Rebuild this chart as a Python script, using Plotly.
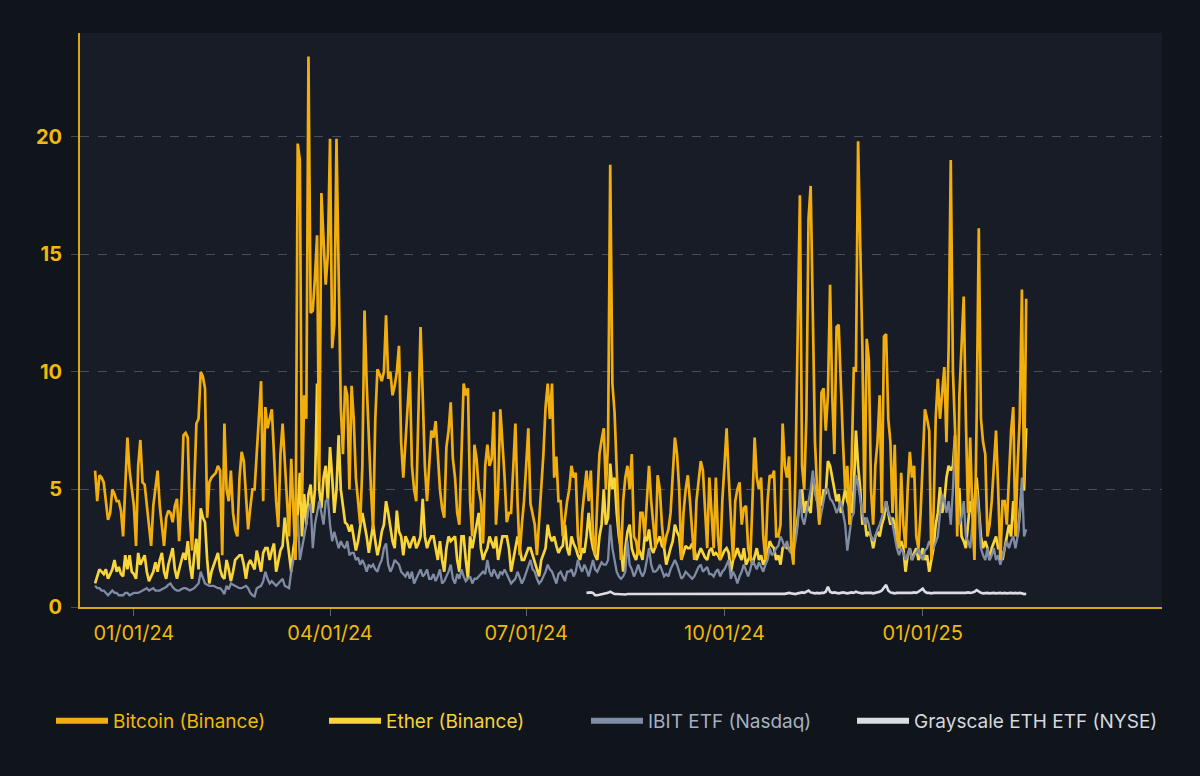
import pandas as pd
import plotly.graph_objects as go

# ---------------- data (daily, from 2023-12-14) ----------------
start_date = "2023-12-14"
gray_start = "2024-07-29"

bitcoin = [
    5.8, 4.5, 5.6, 5.5, 5.3, 4.6, 3.7, 4.0, 5.0, 4.8,
    4.5, 4.5, 4.1, 3.0, 5.5, 7.2, 5.8, 5.0, 4.3, 2.6,
    6.0, 7.1, 5.3, 5.2, 4.4, 3.6, 2.6, 4.3, 5.0, 5.8,
    4.3, 3.4, 2.6, 3.8, 4.1, 4.0, 3.6, 4.3, 4.6, 2.8,
    4.5, 7.3, 7.4, 7.2, 3.8, 2.4, 5.0, 7.8, 8.0, 10.0,
    9.8, 9.3, 3.8, 5.3, 5.5, 5.6, 5.7, 6.0, 5.8, 2.2,
    7.8, 5.0, 4.5, 5.8, 4.0, 3.3, 3.0, 5.5, 6.6, 6.2,
    4.5, 3.3, 4.2, 5.0, 5.0, 6.5, 8.0, 9.6, 4.5, 8.5,
    7.6, 8.0, 8.4, 6.5, 4.5, 3.4, 6.5, 7.8, 6.0, 4.5,
    3.0, 6.3, 4.0, 2.0, 19.7, 19.0, 4.5, 9.0, 8.0, 23.4,
    12.5, 12.6, 14.0, 15.8, 5.3, 17.6, 15.6, 13.7, 15.0, 19.9,
    11.0, 12.0, 19.9, 14.0, 8.5, 6.5, 9.4, 9.0, 5.0, 9.4,
    8.0, 5.5, 4.5, 3.5, 6.0, 12.6, 9.5, 7.0, 5.0, 3.3,
    8.0, 10.1, 9.9, 9.6, 10.0, 12.4, 9.7, 10.0, 9.0, 9.4,
    10.0, 11.1, 7.0, 5.5, 7.0, 8.0, 10.0, 6.0, 5.0, 4.5,
    8.0, 11.9, 9.0, 6.0, 4.5, 6.0, 7.5, 7.2, 7.9, 6.5,
    5.0, 4.2, 3.8, 6.8, 7.5, 8.7, 6.3, 5.5, 4.0, 3.5,
    7.0, 9.5, 9.0, 9.3, 4.5, 3.0, 6.9, 6.3, 5.0, 4.5,
    2.7, 6.0, 6.9, 6.0, 6.3, 8.3, 3.5, 5.0, 8.4, 7.0,
    5.5, 3.6, 4.0, 4.0, 6.0, 7.8, 4.5, 2.2, 3.5, 4.5,
    6.0, 7.6, 4.4, 4.0, 3.5, 2.2, 3.5, 5.0, 6.5, 8.5,
    9.5, 8.0, 9.5, 5.5, 6.4, 4.5, 4.5, 3.0, 3.8, 4.5,
    5.0, 6.0, 5.5, 5.7, 3.0, 2.3, 4.0, 5.0, 5.8, 4.5,
    5.8, 3.0, 2.2, 4.5, 6.5, 7.1, 7.6, 5.0, 7.0, 18.8,
    9.5, 8.3, 6.0, 3.5, 2.0, 4.5, 5.5, 6.0, 5.0, 6.5,
    3.0, 2.8, 2.2, 4.0, 4.0, 3.0, 4.5, 6.0, 4.5, 3.5,
    2.5, 5.6, 5.0, 3.5, 2.5, 3.0, 3.3, 4.0, 5.5, 7.2,
    6.5, 5.0, 2.0, 4.0, 5.0, 5.6, 4.5, 3.0, 2.0, 4.5,
    5.5, 6.2, 5.8, 4.0, 2.5, 5.5, 4.0, 2.5, 5.5, 3.0,
    2.0, 4.5, 6.0, 7.6, 5.5, 4.0, 2.0, 4.5, 5.0, 5.3,
    3.5, 4.2, 4.3, 2.5, 2.0, 4.5, 7.2, 5.5, 5.0, 5.5,
    3.0, 2.0, 4.5, 5.6, 5.5, 5.8, 3.0, 3.0, 3.5, 7.8,
    6.0, 5.5, 6.4, 2.5, 1.8, 6.0, 12.0, 17.5, 6.0, 5.0,
    8.0, 16.5, 17.9, 12.0, 7.0, 5.0, 3.5, 9.1, 9.3, 7.5,
    9.0, 13.7, 9.0, 6.5, 11.9, 12.0, 9.0, 7.0, 5.0, 6.0,
    3.5, 6.0, 10.2, 10.0, 19.8, 15.0, 11.0, 4.0, 11.4, 10.5,
    5.0, 3.5, 6.0, 7.0, 9.0, 4.0, 11.5, 11.6, 8.0, 7.0,
    4.0, 6.9, 3.0, 2.5, 5.7, 3.5, 2.5, 5.0, 6.6, 5.5,
    6.0, 3.0, 2.5, 4.0, 6.0, 8.4, 8.0, 7.5, 2.0, 4.0,
    8.0, 9.7, 8.0, 9.0, 10.2, 7.0, 11.0, 19.0, 10.0, 7.5,
    3.0, 9.0, 11.0, 13.2, 8.0, 4.0, 7.2, 4.0, 2.0, 8.0,
    16.1, 8.0, 7.0, 6.5, 3.0, 3.5, 4.5, 6.0, 7.5, 5.0,
    2.0, 4.5, 4.5, 3.5, 5.5, 7.5, 8.5, 3.0, 6.0, 8.0,
    13.5, 5.2, 13.1,
]

ether = [
    1.0, 1.3, 1.6, 1.5, 1.4, 1.6, 1.2, 1.4, 1.6, 2.0,
    1.5, 1.7, 1.4, 1.3, 2.2, 1.6, 2.2, 1.5, 1.4, 1.2,
    2.3, 1.8, 2.0, 2.2, 1.5, 1.1, 1.3, 1.5, 1.9, 1.5,
    2.0, 2.3, 1.5, 1.2, 1.8, 2.2, 2.5, 1.6, 1.2, 1.6,
    2.0, 2.3, 2.0, 2.8, 1.8, 1.2, 2.2, 2.9, 1.6, 4.2,
    3.8, 3.6, 2.0, 1.0, 1.5, 1.8, 2.0, 2.3, 1.6, 1.3,
    1.2, 2.0, 1.6, 1.1, 1.5, 2.0, 2.1, 2.2, 2.2, 1.8,
    1.2, 1.8, 2.0, 1.8, 1.6, 2.4, 2.0, 1.5, 2.3, 2.5,
    2.5, 2.0, 2.4, 2.7, 1.5, 2.0, 2.4, 2.6, 3.8, 3.0,
    2.2, 1.5, 2.5, 3.0, 4.0, 5.7, 3.0, 4.8, 3.5, 4.8,
    5.2, 4.0, 5.0, 9.5, 5.0, 4.2, 5.5, 6.0, 4.5, 6.8,
    5.5, 4.0, 5.0, 7.3, 5.0, 4.2, 3.6, 3.5, 3.2, 3.5,
    3.0, 2.4, 2.8, 3.5, 4.0, 3.5, 3.0, 2.3, 3.0, 3.5,
    2.8, 2.2, 2.6, 3.2, 3.5, 4.5, 4.0, 3.3, 2.8, 2.5,
    4.1, 3.2, 3.0, 2.2, 3.0, 2.8, 2.5, 2.8, 3.0, 2.5,
    2.7, 3.0, 4.6, 3.0, 2.5, 2.8, 3.0, 3.0, 2.5, 2.0,
    2.8, 2.0, 1.5, 2.5, 3.0, 2.8, 2.9, 3.0, 2.0, 1.5,
    3.0, 3.0, 2.0, 1.2, 3.0, 2.5, 3.0, 3.5, 4.0, 2.5,
    2.0, 2.3, 2.5, 3.0, 2.7, 2.5, 3.0, 2.0, 2.5, 3.0,
    3.0, 3.0, 2.5, 1.5, 2.0, 2.5, 3.0, 2.5, 2.0, 2.0,
    2.3, 2.5, 2.5, 2.2, 2.0, 1.6, 1.3, 2.0, 2.3, 2.5,
    3.5, 3.0, 2.8, 3.0, 2.6, 2.3, 2.5, 2.6, 3.5, 2.5,
    2.2, 3.0, 2.7, 2.5, 2.2, 2.0, 2.5, 2.3, 3.0, 4.0,
    3.0, 2.5, 2.2, 2.0, 3.0, 3.5, 5.0, 3.5, 3.8, 6.1,
    5.0, 5.5, 4.0, 3.0, 2.5, 1.5, 2.5, 3.2, 3.5, 2.5,
    2.2, 2.0, 2.5, 2.3, 2.0, 3.0, 2.8, 3.3, 2.5, 2.3,
    2.6, 2.8, 3.0, 2.6, 2.5, 1.8, 2.2, 2.5, 2.8, 3.5,
    3.2, 3.0, 2.0, 2.3, 2.6, 2.5, 2.5, 2.7, 2.5, 2.0,
    2.3, 2.5, 2.3, 2.1, 2.0, 2.4, 2.5, 2.2, 2.3, 2.2,
    2.0, 2.2, 2.4, 2.5, 2.3, 1.5, 2.0, 2.2, 2.5, 2.2,
    2.0, 2.5, 1.8, 2.0, 2.2, 1.8, 2.2, 2.5, 2.0, 2.2,
    1.8, 2.0, 2.3, 2.8, 2.6, 2.5, 2.0, 2.2, 1.8, 2.5,
    2.6, 2.5, 2.5, 2.3, 2.6, 3.0, 3.8, 4.5, 5.0, 4.0,
    4.5, 4.2, 4.0, 5.5, 5.0, 4.5, 4.8, 4.3, 5.0, 4.8,
    6.2, 6.0, 5.5, 5.0, 4.5, 4.8, 4.0, 4.5, 5.0, 4.5,
    4.2, 4.0, 5.0, 7.5, 6.0, 5.0, 3.5, 3.8, 3.0, 3.2,
    3.0, 2.5, 3.0, 3.2, 3.0, 3.5, 3.8, 4.5, 4.0, 3.5,
    3.8, 3.5, 3.0, 2.5, 2.8, 2.5, 1.5, 2.2, 2.5, 2.0,
    2.3, 2.5, 2.0, 2.2, 2.5, 2.0, 2.2, 1.5, 2.0, 2.5,
    3.5, 4.0, 5.1, 4.0, 4.5, 5.5, 6.0, 5.8, 6.0, 7.3,
    5.0, 5.0, 3.0, 2.8, 2.5, 3.5, 4.5, 4.0, 4.5, 5.5,
    4.0, 3.0, 2.5, 2.8, 2.5, 2.0, 2.5, 2.8, 3.0, 2.5,
    2.5, 2.0, 2.5, 3.0, 3.5, 3.0, 4.5, 3.5, 3.0, 4.0,
    5.0, 5.0, 7.6,
]

ibit = [
    0.9, 0.8, 0.8, 0.7, 0.7, 0.6, 0.5, 0.6, 0.7, 0.6,
    0.6, 0.5, 0.5, 0.5, 0.6, 0.6, 0.5, 0.55, 0.6, 0.6,
    0.6, 0.65, 0.7, 0.75, 0.8, 0.7, 0.75, 0.8, 0.7, 0.7,
    0.7, 0.75, 0.8, 0.85, 0.95, 1.0, 0.85, 0.75, 0.7, 0.7,
    0.75, 0.8, 0.8, 0.75, 0.7, 0.75, 0.8, 0.9, 1.0, 1.5,
    1.2, 1.0, 0.95, 0.9, 0.9, 0.9, 0.85, 0.8, 0.8, 0.7,
    0.55, 0.9, 0.75, 1.0, 0.95, 0.9, 0.85, 0.8, 0.8, 0.85,
    0.9, 0.8, 0.6, 0.5, 0.45, 0.8, 0.85, 0.9, 1.1, 1.5,
    1.2, 1.0, 1.1, 1.0, 0.9, 1.0, 1.1, 1.2, 0.9, 0.85,
    0.8, 1.5, 2.0, 2.5, 3.9, 2.0, 2.5, 3.0, 3.5, 4.2,
    4.4, 2.5, 3.5, 4.0, 4.5, 4.0, 3.5, 4.5, 4.6, 3.5,
    2.8, 3.2, 2.9, 2.5, 2.8, 2.6, 2.5, 2.8, 2.2, 2.3,
    2.3, 2.0, 2.1, 1.8, 2.0, 1.8, 1.5, 1.8, 1.7, 1.8,
    1.6, 1.5, 1.8, 2.0, 2.5, 2.7, 1.8, 1.5, 1.7, 2.0,
    1.9, 1.8, 1.5, 1.4, 1.3, 1.5, 1.2, 1.5, 1.0, 1.2,
    1.4, 1.6, 1.3, 1.4, 1.6, 1.2, 1.2, 1.4, 1.1, 1.3,
    1.6, 1.0, 1.1, 1.3, 1.5, 1.8, 1.2, 1.0, 1.4, 1.2,
    1.6, 1.3, 1.1, 1.2, 1.3, 1.0, 1.2, 1.2, 1.3, 1.4,
    1.5, 1.4, 2.0, 1.5, 1.3, 1.6, 1.4, 1.2, 1.5, 1.4,
    1.6, 1.4, 1.2, 1.0, 1.1, 1.2, 1.5, 1.2, 1.0, 1.2,
    1.5, 1.8, 2.0, 1.6, 1.5, 1.2, 1.0, 1.1, 1.3, 1.5,
    1.8, 1.6, 1.5, 1.2, 1.0, 1.4, 1.5, 1.3, 1.1, 1.5,
    1.5, 1.6, 1.3, 1.5, 2.0, 1.7, 1.5, 1.8, 1.6, 1.3,
    1.6, 2.0, 1.6, 1.5, 1.7, 1.9, 1.8, 1.8, 2.0, 3.5,
    2.5, 2.0, 1.5, 1.3, 1.2, 1.3, 1.5, 2.8, 1.8, 1.6,
    1.3, 1.5, 1.8, 1.5, 1.3, 1.5, 2.0, 2.5, 1.8, 1.5,
    1.5, 1.6, 1.8, 1.5, 1.3, 1.4, 1.3, 1.6, 1.8, 2.0,
    1.8, 1.5, 1.2, 1.3, 1.5, 1.4, 1.3, 1.2, 1.3, 1.5,
    1.7, 1.8, 1.5, 1.6, 1.7, 1.4, 1.4, 1.3, 1.5, 1.6,
    1.3, 1.5, 1.6, 1.8, 2.0, 1.2, 1.5, 1.3, 1.0, 1.3,
    1.5, 1.8, 1.5, 1.3, 1.6, 2.0, 1.8, 1.6, 1.9, 1.7,
    1.5, 1.8, 2.0, 2.5, 2.2, 2.3, 2.5, 2.6, 3.0, 2.8,
    2.5, 2.8, 2.4, 2.3, 2.3, 2.8, 3.5, 5.0, 3.8, 3.5,
    4.0, 4.5, 5.0, 5.8, 4.8, 4.5, 3.5, 4.0, 4.5, 5.0,
    5.0, 4.6, 4.5, 4.3, 4.0, 4.2, 4.5, 4.0, 3.5, 2.4,
    3.2, 3.8, 4.0, 5.6, 5.2, 4.5, 4.0, 3.5, 3.8, 3.5,
    3.0, 2.8, 3.0, 3.3, 3.5, 3.8, 4.2, 4.5, 4.0, 3.8,
    3.5, 3.0, 2.5, 2.2, 2.5, 2.3, 2.0, 2.2, 2.5, 2.0,
    2.2, 2.3, 2.5, 2.2, 2.0, 2.4, 2.5, 2.8, 2.6, 2.5,
    2.8, 3.0, 4.0, 4.8, 4.5, 4.0, 4.5, 3.5, 5.0, 7.3,
    5.0, 3.5, 3.8, 4.5, 3.0, 2.8, 2.5, 3.5, 4.0, 5.0,
    4.0, 2.5, 2.2, 2.0, 2.5, 2.0, 2.2, 2.5, 2.0, 2.2,
    1.8, 2.2, 2.5, 2.8, 2.5, 2.8, 3.0, 2.5, 3.0, 4.0,
    5.5, 3.0, 3.3,
]

grayscale_eth = [
    0.6, 0.62, 0.62, 0.6, 0.5, 0.5, 0.52, 0.55, 0.55, 0.56,
    0.6, 0.65, 0.6, 0.55, 0.55, 0.54, 0.55, 0.55, 0.53, 0.55,
    0.55, 0.54, 0.55, 0.55, 0.53, 0.54, 0.55, 0.55, 0.54, 0.55,
    0.55, 0.54, 0.55, 0.56, 0.55, 0.54, 0.55, 0.55, 0.54, 0.55,
    0.55, 0.56, 0.55, 0.54, 0.55, 0.55, 0.55, 0.54, 0.55, 0.56,
    0.55, 0.54, 0.55, 0.55, 0.54, 0.55, 0.56, 0.55, 0.55, 0.54,
    0.55, 0.55, 0.56, 0.55, 0.54, 0.55, 0.55, 0.55, 0.54, 0.55,
    0.55, 0.56, 0.55, 0.55, 0.54, 0.55, 0.55, 0.56, 0.55, 0.55,
    0.54, 0.55, 0.55, 0.56, 0.55, 0.55, 0.54, 0.55, 0.56, 0.55,
    0.55, 0.55, 0.56, 0.58, 0.6, 0.58, 0.56, 0.55, 0.58, 0.6,
    0.62, 0.6, 0.65, 0.7, 0.62, 0.6, 0.58, 0.6, 0.58, 0.6,
    0.6, 0.65, 0.86, 0.65, 0.6, 0.62, 0.6, 0.58, 0.6, 0.62,
    0.6, 0.58, 0.6, 0.62, 0.6, 0.65, 0.62, 0.6, 0.58, 0.6,
    0.6, 0.62, 0.6, 0.58, 0.6, 0.62, 0.65, 0.7, 0.8, 0.94,
    0.7, 0.62, 0.6, 0.58, 0.6, 0.6, 0.58, 0.6, 0.6, 0.58,
    0.6, 0.6, 0.62, 0.6, 0.65, 0.7, 0.78, 0.65, 0.6, 0.6,
    0.58, 0.6, 0.6, 0.58, 0.6, 0.6, 0.58, 0.6, 0.6, 0.58,
    0.6, 0.6, 0.58, 0.6, 0.6, 0.58, 0.6, 0.62, 0.6, 0.62,
    0.65, 0.72, 0.65, 0.6, 0.58, 0.6, 0.6, 0.58, 0.6, 0.6,
    0.58, 0.6, 0.6, 0.58, 0.6, 0.58, 0.6, 0.6, 0.58, 0.6,
    0.58, 0.6, 0.58, 0.55, 0.56,
]

x_ticks = ["2024-01-01", "2024-04-01", "2024-07-01", "2024-10-01", "2025-01-01"]
x_tick_labels = ["01/01/24", "04/01/24", "07/01/24", "10/01/24", "01/01/25"]
y_ticks = [0, 5, 10, 15, 20]

names = ["Bitcoin (Binance)", "Ether (Binance)", "IBIT ETF (Nasdaq)", "Grayscale ETH ETF (NYSE)"]

# ---------------- styling ----------------
C_BTC = "#F2AE0E"
C_ETH = "#FAD53A"
C_IBIT = "#808BA4"
C_GRAY = "#DADDE2"
TXT_BTC = "#F0B90B"
TXT_ETH = "#F7D13A"
TXT_IBIT = "#A6AFC2"
TXT_GRAY = "#D5D8DD"
PAPER = "#10141B"
PLOT = "#171C26"
AXIS = "#D6A814"
GRID = "rgba(130,140,155,0.45)"
FONT = "Inter, Roboto, sans-serif"

dates = pd.date_range(start_date, periods=len(bitcoin), freq="D")
dates_g = pd.date_range(gray_start, periods=len(grayscale_eth), freq="D")


def lbl(text, color):
    return f"<span style='color:{color}'>{text}</span>"


fig = go.Figure()
# data traces (legend entries handled by the legend-only keys below)
fig.add_trace(go.Scatter(x=dates, y=ether, mode="lines", showlegend=False,
                         line=dict(color=C_ETH, width=2.7)))
fig.add_trace(go.Scatter(x=dates, y=ibit, mode="lines", showlegend=False,
                         line=dict(color=C_IBIT, width=2.3)))
fig.add_trace(go.Scatter(x=dates, y=bitcoin, mode="lines", showlegend=False,
                         line=dict(color=C_BTC, width=2.7)))
fig.add_trace(go.Scatter(x=dates_g, y=grayscale_eth, mode="lines", showlegend=False,
                         line=dict(color=C_GRAY, width=2.6)))

# legend keys (no data, thick sample lines)
legend_keys = [
    (names[0], C_BTC, TXT_BTC, "legend"),
    (names[1], C_ETH, TXT_ETH, "legend2"),
    (names[2], C_IBIT, TXT_IBIT, "legend3"),
    (names[3], C_GRAY, TXT_GRAY, "legend4"),
]
for nm, lc, tc, lg in legend_keys:
    fig.add_trace(go.Scatter(x=[None], y=[None], mode="lines", name=lbl(nm, tc),
                             line=dict(color=lc, width=6), legend=lg, hoverinfo="skip"))

leg_common = dict(orientation="h", xref="container", yref="container",
                  yanchor="middle", y=(776 - 721) / 776, bgcolor="rgba(0,0,0,0)",
                  font=dict(family=FONT, size=19), itemwidth=52)
legend_x = [54, 327, 589, 857]

fig.update_layout(
    width=1200, height=776,
    paper_bgcolor=PAPER, plot_bgcolor=PLOT,
    margin=dict(l=80, r=38, t=33, b=169),
    showlegend=True,
    legend=dict(x=(legend_x[0] - 3) / 1200, **leg_common),
    legend2=dict(x=(legend_x[1] - 3) / 1200, **leg_common),
    legend3=dict(x=(legend_x[2] - 3) / 1200, **leg_common),
    legend4=dict(x=(legend_x[3] - 5) / 1200, **leg_common),
    xaxis=dict(
        type="date",
        range=["2023-12-07", "2025-04-22"],
        tickvals=x_ticks, ticktext=x_tick_labels,
        tickfont=dict(family=FONT, size=20, color=TXT_BTC),
        showgrid=False, zeroline=False,
        showline=True, linecolor=AXIS, linewidth=2,
        ticks="outside", ticklen=7, tickcolor="#5d6470", tickwidth=1,
        ticklabelstandoff=0,
    ),
    yaxis=dict(
        range=[0, 24.4],
        tickvals=y_ticks,
        tickfont=dict(family=FONT, size=20, color=TXT_BTC, weight="bold"),
        showgrid=True, gridcolor=GRID, griddash="dash", gridwidth=1,
        zeroline=False,
        showline=True, linecolor=AXIS, linewidth=2,
        ticks="outside", ticklen=7, tickcolor=GRID, tickwidth=1,
        ticklabelstandoff=5,
    ),
)

fig.write_html("out.html")
